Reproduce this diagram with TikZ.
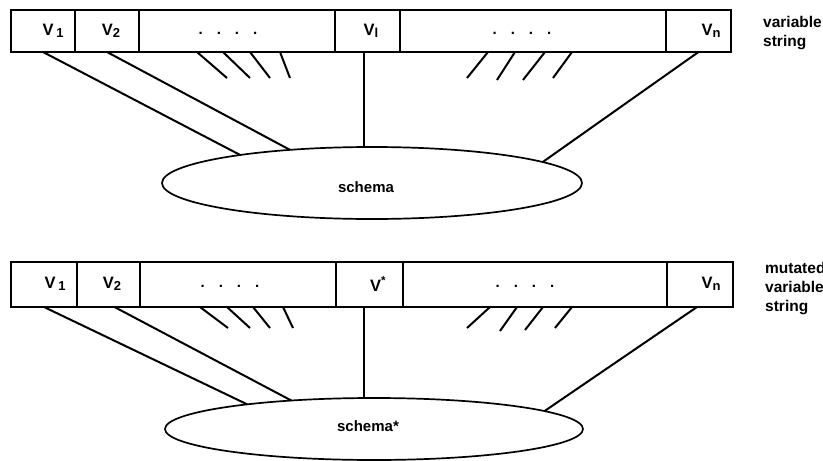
\documentclass[tikz,border=0pt]{standalone}
\usepackage{fontspec}
\setmainfont{Liberation Sans}
\usetikzlibrary{shapes.geometric}
\begin{document}
\begin{tikzpicture}[x=1pt,y=-1pt,
  cell/.style={draw, line width=1.4pt, inner sep=0pt, outer sep=0pt, anchor=north west},
  conn/.style={line width=2pt},
  hatch/.style={line width=2pt},
  lab/.style={font=\bfseries\fontsize{15}{18}\selectfont, inner sep=0pt},
  vlab/.style={font=\bfseries\fontsize{16.5}{18}\selectfont, inner sep=0pt},
  side/.style={font=\bfseries\fontsize{15.5}{19}\selectfont, align=left, anchor=north west, inner sep=0pt},
  schema/.style={draw, ellipse, line width=1.7pt, inner sep=0pt, outer sep=0pt}]
\useasboundingbox (0,0) rectangle (823,461);
\newcommand{\fourdots}{.\hspace{14pt}.\hspace{14pt}.\hspace{14pt}.}
\newcommand{\subsc}[1]{\raisebox{-2.5pt}{\fontsize{13}{13}\selectfont #1}}
% ---------- top string ----------
\node[cell, minimum width=64pt, minimum height=42pt] (a1) at (11,10) {};
\node[cell, minimum width=64pt, minimum height=42pt] (a2) at (a1.north east) {};
\node[cell, minimum width=196pt, minimum height=42pt] (a3) at (a2.north east) {};
\node[cell, minimum width=65pt, minimum height=42pt] (a4) at (a3.north east) {};
\node[cell, minimum width=266pt, minimum height=42pt] (a5) at (a4.north east) {};
\node[cell, minimum width=65pt, minimum height=42pt] (a6) at (a5.north east) {};
\node[vlab] (la1) at (53,31) {V\,\subsc{1}};
\node[vlab] (la2) at (111,31) {V\subsc{2}};
\node[lab] (la3) at (228,33) {\fourdots};
\node[vlab] (la4) at (371,31) {V\subsc{l}};
\node[lab] (la5) at (522,33) {\fourdots};
\node[vlab] (la6) at (711,31) {V\subsc{n}};
\node[side] (sa) at (763,16) {variable\\string};
\node[schema, minimum width=420pt, minimum height=72pt] (e1) at (372,183) {};
\node[lab] (se1) at (366,187) {schema};
\draw[conn] (a1.south) -- (e1.168);
\draw[conn] (a2.south) -- (e1.158.5);
\draw[conn] ([xshift=-4pt]a4.south) -- ([xshift=-4pt]a4.south |- e1.north);
\draw[conn] (a6.south) -- (e1.7.7);
\draw[hatch] ([xshift=58pt]a3.south west) -- ++(30,26);
\draw[hatch] ([xshift=84pt]a3.south west) -- ++(27,26);
\draw[hatch] ([xshift=111pt]a3.south west) -- ++(20,26);
\draw[hatch] ([xshift=141pt]a3.south west) -- ++(10,26);
\draw[hatch] ([xshift=88pt]a5.south west) -- ++(-21,26);
\draw[hatch] ([xshift=115pt]a5.south west) -- ++(-18,28);
\draw[hatch] ([xshift=145pt]a5.south west) -- ++(-22,28);
\draw[hatch] ([xshift=172pt]a5.south west) -- ++(-19,26);
% ---------- bottom string ----------
\node[cell, minimum width=66pt, minimum height=45pt] (b1) at (11,262) {};
\node[cell, minimum width=63pt, minimum height=45pt] (b2) at (b1.north east) {};
\node[cell, minimum width=196pt, minimum height=45pt] (b3) at (b2.north east) {};
\node[cell, minimum width=67pt, minimum height=45pt] (b4) at (b3.north east) {};
\node[cell, minimum width=264pt, minimum height=45pt] (b5) at (b4.north east) {};
\node[cell, minimum width=66pt, minimum height=45pt] (b6) at (b5.north east) {};
\node[vlab] (lb1) at (55,284) {V\,\subsc{1}};
\node[vlab] (lb2) at (112,284) {V\subsc{2}};
\node[lab] (lb3) at (230,286) {\fourdots};
\node[vlab] (lb4) at (378,284) {V\textsuperscript{*}};
\node[lab] (lb5) at (525,286) {\fourdots};
\node[vlab] (lb6) at (711,284) {V\subsc{n}};
\node[side] (sb) at (765,262) {mutated\\variable\\string};
\node[schema, minimum width=418pt, minimum height=62pt] (e2) at (374,429) {};
\node[lab] (se2) at (368,426) {schema*};
\draw[conn] (b1.south) -- (e2.169.9);
\draw[conn] ([xshift=6pt]b2.south) -- (e2.161.8);
\draw[conn] ([xshift=-6pt]b4.south) -- ([xshift=-6pt]b4.south |- e2.north);
\draw[conn] ([xshift=-3pt]b6.south) -- (e2.6.8);
\draw[hatch] ([xshift=60pt]b3.south west) -- ++(28,21);
\draw[hatch] ([xshift=87pt]b3.south west) -- ++(23,21);
\draw[hatch] ([xshift=113pt]b3.south west) -- ++(17,21);
\draw[hatch] ([xshift=143pt]b3.south west) -- ++(10,21);
\draw[hatch] ([xshift=87pt]b5.south west) -- ++(-23,21);
\draw[hatch] ([xshift=114pt]b5.south west) -- ++(-17,24);
\draw[hatch] ([xshift=140pt]b5.south west) -- ++(-18,23);
\draw[hatch] ([xshift=169pt]b5.south west) -- ++(-17,21);
\end{tikzpicture}
\end{document}
